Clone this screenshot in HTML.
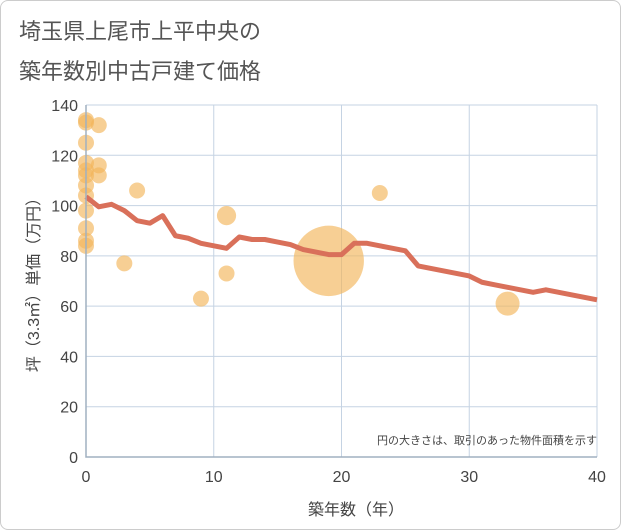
<!DOCTYPE html>
<html><head><meta charset="utf-8"><style>
body{margin:0;background:#fff;font-family:"Liberation Sans","Noto Sans CJK JP",sans-serif}
#wrap{position:relative;width:619px;height:528px;border:1px solid #ccc;border-radius:8px;overflow:hidden}
</style></head><body>
<div id="wrap">
<svg id="chart" width="621" height="530">
<text x="18" y="38" font-size="22" fill="#555" font-family="Liberation Sans, Noto Sans CJK JP, sans-serif">埼玉県上尾市上平中央の</text>
<text x="18" y="78" font-size="22" fill="#555" font-family="Liberation Sans, Noto Sans CJK JP, sans-serif">築年数別中古戸建て価格</text>
<g id="grid"></g><g id="bubbles"></g><g id="line"></g><g id="axes"></g>
<text x="596" y="443" font-size="11" fill="#444" text-anchor="end" font-family="Liberation Sans, Noto Sans CJK JP, sans-serif">円の大きさは、取引のあった物件面積を示す</text>
<text x="355" y="514" font-size="16" fill="#444" text-anchor="middle" font-family="Liberation Sans, Noto Sans CJK JP, sans-serif">築年数（年）</text>
<text transform="translate(38,280) rotate(-90)" font-size="16" fill="#444" text-anchor="middle" font-family="Liberation Sans, Noto Sans CJK JP, sans-serif">坪（3.3㎡）単価（万円）</text>
</svg></div>
<script>
const xTicks=[0,10,20,30,40];
const yTicks=[0,20,40,60,80,100,120,140];
const lineYears=[0,1,2,3,4,5,6,7,8,9,10,11,12,13,14,15,16,17,18,19,20,21,22,23,24,25,26,27,28,29,30,31,32,33,34,35,36,37,38,39,40];
const linePrices=[103.5,99.5,100.5,98,94,93,96,88,87,85,84,83,87.5,86.5,86.5,85.5,84.5,82.5,81.5,80.5,80.5,85,85,84,83,82,76,75,74,73,72,69.5,68.5,67.5,66.5,65.5,66.5,65.5,64.5,63.5,62.5];
const bubbleYears=[0,0,0,0,0,0,0,0,0,0,0,0,1,1,1,4,3,9,11,11,19,23,33];
const bubblePrices=[134,133,125,117,114,112,108,104,98,91,86,84,132,116,112,106,77,63,96,73,78,105,61];
const bubbleSizes=[1,1,1,1,1,1,1,1,1,1,1,1,1,1,1,1,1,1,1.2,1,4.4,1,1.5];
const X=v=>85+v*(596-85)/40, Y=v=>456-v*(456-104)/140;
const NS="http://www.w3.org/2000/svg";
function mk(t,a,p){const e=document.createElementNS(NS,t);for(const k in a)e.setAttribute(k,a[k]);document.getElementById(p).appendChild(e);return e;}
yTicks.forEach(t=>{const g=mk('line',{x1:85,x2:596,y1:Y(t),y2:Y(t),stroke:'#c5d3e3','stroke-width':1},'grid');


const l=mk('text',{x:77,y:Y(t)+6,'font-size':16,fill:'#444','text-anchor':'end'},'axes');l.textContent=t;

});
xTicks.forEach(t=>{const g=mk('line',{x1:X(t),x2:X(t),y1:104,y2:456,stroke:'#c5d3e3','stroke-width':1},'grid');


const l=mk('text',{x:X(t),y:481,'font-size':16,fill:'#444','text-anchor':'middle'},'axes');l.textContent=t;

});
const ax=mk('path',{d:`M85 104V456H596`,stroke:'#a0b0c0',fill:'none','stroke-width':1.5},'axes');


bubbleYears.forEach((yr,i)=>{const c=mk('circle',{cx:X(yr),cy:Y(bubblePrices[i]),r:8*bubbleSizes[i],fill:'#f2b55a','fill-opacity':0.65},'bubbles');

});
const p=mk('polyline',{points:lineYears.map((y,i)=>X(y)+','+Y(linePrices[i])).join(' '),fill:'none',stroke:'#d9705a','stroke-width':5,'stroke-linejoin':'round'},'line');


</script></body></html>
